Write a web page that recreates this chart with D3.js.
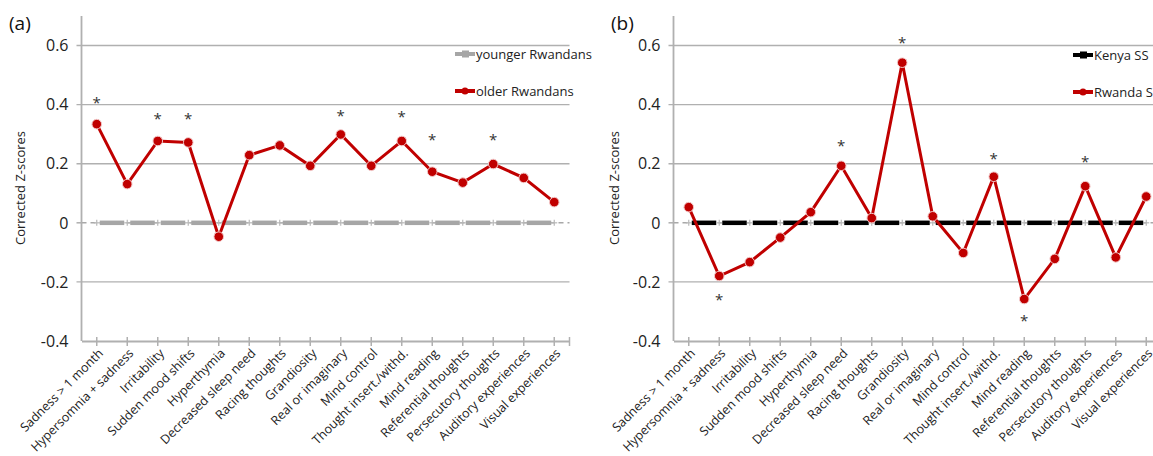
<!DOCTYPE html>
<html>
<head>
<meta charset="utf-8">
<script src="https://cdn.jsdelivr.net/npm/d3@7"></script>
<style>
  body { margin: 0; background: #fff; overflow: hidden; }
  svg { display: block; font-family: "Open Sans", "Noto Sans", sans-serif; }
</style>
</head>
<body>
<svg id="chart" width="1153" height="456"></svg>
<script>
// ---- data ----
const categories = [
  "Sadness > 1 month", "Hypersomnia + sadness", "Irritability", "Sudden mood shifts",
  "Hyperthymia", "Decreased sleep need", "Racing thoughts", "Grandiosity",
  "Real or imaginary", "Mind control", "Thought insert./withd.", "Mind reading",
  "Referential thoughts", "Persecutory thoughts", "Auditory experiences", "Visual experiences"
];
const yTicks = [-0.4, -0.2, 0, 0.2, 0.4, 0.6];
const yTickLabels = ["-0.4", "-0.2", "0", "0.2", "0.4", "0.6"];

// panel (a)
const youngerRwandans = [0, 0, 0, 0, 0, 0, 0, 0, 0, 0, 0, 0, 0, 0, 0, 0];
const olderRwandans = [0.334, 0.131, 0.277, 0.272, -0.047, 0.229, 0.262, 0.193,
                       0.299, 0.193, 0.277, 0.173, 0.136, 0.199, 0.152, 0.070];
const starsA = [0, 2, 3, 8, 10, 11, 13];              // significant categories
const starLevelA = [0.42, 0.366, 0.366, 0.376, 0.373, 0.295, 0.295];

// panel (b)
const kenyaSS = [0, 0, 0, 0, 0, 0, 0, 0, 0, 0, 0, 0, 0, 0, 0, 0];
const rwandaSS = [0.053, -0.180, -0.133, -0.050, 0.036, 0.193, 0.016, 0.542,
                  0.022, -0.102, 0.156, -0.258, -0.122, 0.124, -0.117, 0.089];
const starsB = [1, 5, 7, 10, 11, 13];
const starLevelB = [-0.246, 0.275, 0.624, 0.23, -0.319, 0.22];

const svg = d3.select("#chart");
const RED = "#c00000";

function drawPanel(o) {
  const g = svg.append("g");
  const x = d3.scaleBand().domain(categories).range([o.left, o.right]);
  const y = d3.scaleLinear().domain([-0.4, 0.7]).range([o.bottom, o.top]);
  const cx = c => x(c) + x.bandwidth() / 2;

  // gridlines
  g.selectAll("line.grid").data(yTicks.filter(v => v !== 0 && v !== -0.4)).enter()
    .append("line").attr("x1", o.left - 5).attr("x2", o.gridEnd)
    .attr("y1", d => y(d)).attr("y2", d => y(d))
    .attr("stroke", "#b0b0b0").attr("stroke-width", 1.4);
  // zero line dashed
  g.append("line").attr("x1", o.left).attr("x2", o.right)
    .attr("y1", y(0)).attr("y2", y(0))
    .attr("stroke", "#a8a8a8").attr("stroke-width", 1.4).attr("stroke-dasharray", "5,4");
  g.append("line").attr("x1", o.left - 5).attr("x2", o.left)
    .attr("y1", y(0)).attr("y2", y(0)).attr("stroke", "#a8a8a8").attr("stroke-width", 1.4);

  // y axis line
  g.append("line").attr("x1", o.left).attr("x2", o.left)
    .attr("y1", o.top).attr("y2", o.bottom)
    .attr("stroke", "#b0b0b0").attr("stroke-width", 1.8);
  // y tick labels
  g.selectAll("text.ytl").data(yTicks).enter().append("text")
    .attr("x", o.left - 13).attr("y", d => y(d)).attr("dy", "0.36em")
    .attr("text-anchor", "end").attr("font-size", 16).attr("fill", "#222")
    .text((d, i) => yTickLabels[i]);

  // x axis
  const xAxis = d3.axisBottom(x).tickSize(0).tickFormat("");
  const ax = g.append("g").attr("transform", `translate(0,${o.bottom})`).call(xAxis);
  ax.select(".domain").attr("stroke", "#b0b0b0").attr("stroke-width", 1.8);
  g.selectAll("line.xt").data(categories.concat(["__end"])).enter().append("line")
    .attr("x1", d => d === "__end" ? o.right : cx(d))
    .attr("x2", d => d === "__end" ? o.right : cx(d))
    .attr("y1", o.bottom - 4).attr("y2", o.bottom + 5)
    .attr("stroke", "#b0b0b0").attr("stroke-width", 1.5);
  g.selectAll("text.xl").data(categories).enter().append("text")
    .attr("transform", d => `translate(${cx(d) + 4},${o.bottom + 10}) rotate(-45)`)
    .attr("text-anchor", "end").attr("dy", "0.35em")
    .attr("font-size", 12.5).attr("fill", "#222").text(d => d);

  // baseline series (thick segments with small + markers)
  const base = o.baseVals;
  const segs = d3.range(categories.length - 1);
  g.selectAll("line.bs").data(segs).enter().append("line")
    .attr("x1", i => cx(categories[i]) + 3).attr("x2", i => cx(categories[i + 1]) - 3)
    .attr("y1", i => y(base[i])).attr("y2", i => y(base[i + 1]))
    .attr("stroke", o.baseColor).attr("stroke-width", 4.5);
  const plus = g.selectAll("g.pl").data(categories).enter().append("g")
    .attr("transform", (d, i) => `translate(${cx(d)},${y(base[i])})`);
  plus.append("line").attr("x1", -3).attr("x2", 3).attr("y1", 0).attr("y2", 0)
    .attr("stroke", "#b8b8b8").attr("stroke-width", 1.2);
  plus.append("line").attr("x1", 0).attr("x2", 0).attr("y1", -3).attr("y2", 3)
    .attr("stroke", "#b8b8b8").attr("stroke-width", 1.2);

  // red series
  const line = d3.line().x((d, i) => cx(categories[i])).y(d => y(d));
  g.append("path").datum(o.redVals).attr("d", line)
    .attr("fill", "none").attr("stroke", RED).attr("stroke-width", 3)
    .attr("stroke-linejoin", "miter");
  g.selectAll("circle.rp").data(o.redVals).enter().append("circle")
    .attr("cx", (d, i) => cx(categories[i])).attr("cy", d => y(d)).attr("r", 4.8)
    .attr("fill", RED).attr("stroke", "#f3caca").attr("stroke-width", 1);

  // asterisks
  g.selectAll("text.st").data(o.stars).enter().append("text")
    .attr("x", (d) => cx(categories[d])).attr("y", (d, i) => y(o.starLevels[i]))
    .attr("dy", "0.62em").attr("text-anchor", "middle")
    .attr("font-size", 15).attr("fill", "#333").text("*");

  // panel label
  g.append("text").attr("x", o.labelX).attr("y", 30).attr("font-size", 19)
    .attr("fill", "#111").text(o.label);
  // y title
  g.append("text").attr("transform", `translate(${o.titleX},188) rotate(-90)`)
    .attr("text-anchor", "middle").attr("dy", "0.35em")
    .attr("font-size", 13).attr("fill", "#222").text("Corrected Z-scores");

  // legend
  const lg = g.append("g");
  o.legend.forEach((L, i) => {
    const ly = L.y;
    lg.append("line").attr("x1", o.legX).attr("x2", o.legX + 20)
      .attr("y1", ly).attr("y2", ly).attr("stroke", L.color).attr("stroke-width", 4);
    if (L.circle) {
      lg.append("circle").attr("cx", o.legX + 10).attr("cy", ly).attr("r", 3.5).attr("fill", L.color);
    } else {
      lg.append("rect").attr("x", o.legX + 7).attr("y", ly - 3.5).attr("width", 7).attr("height", 7).attr("fill", L.color);
    }
    lg.append("text").attr("x", o.legX + 21).attr("y", ly).attr("dy", "0.35em")
      .attr("font-size", 13).attr("fill", "#222").text(L.name);
  });
}

drawPanel({
  left: 81.5, right: 569.5, top: 16, bottom: 341, gridEnd: 569.5,
  baseVals: youngerRwandans, baseColor: "#a6a6a6", redVals: olderRwandans,
  stars: starsA, starLevels: starLevelA, label: "(a)", labelX: 9, titleX: 20,
  legX: 455,
  legend: [{ name: "younger Rwandans", color: "#a6a6a6", y: 54 },
           { name: "older Rwandans", color: RED, y: 91, circle: true }]
});
drawPanel({
  left: 673.5, right: 1161.5, top: 16, bottom: 341, gridEnd: 1153,
  baseVals: kenyaSS, baseColor: "#000", redVals: rwandaSS,
  stars: starsB, starLevels: starLevelB, label: "(b)", labelX: 611, titleX: 614,
  legX: 1073,
  legend: [{ name: "Kenya SS", color: "#000", y: 55 },
           { name: "Rwanda SS", color: RED, y: 92, circle: true }]
});
</script>
</body>
</html>
